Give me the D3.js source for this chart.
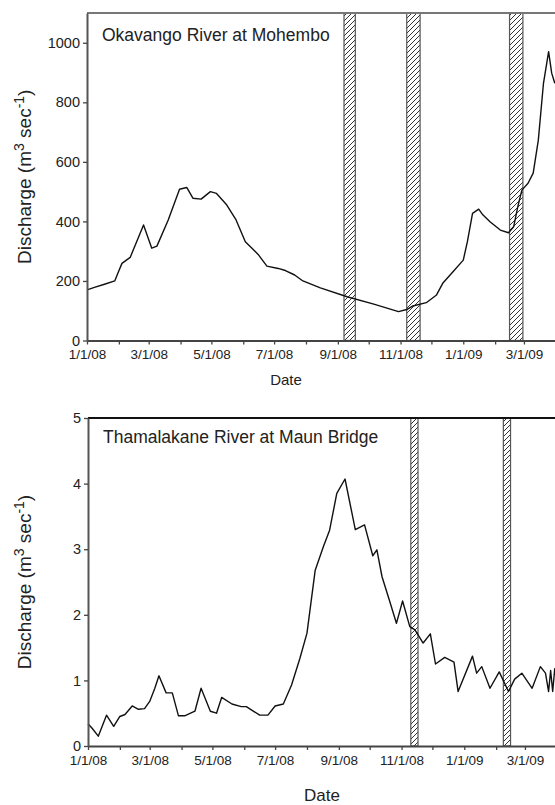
<!DOCTYPE html>
<html>
<head>
<meta charset="utf-8">
<script src="https://cdn.jsdelivr.net/npm/d3@7"></script>
<style>
  body { margin: 0; background: #fff; }
  svg { display: block; font-family: "Liberation Sans", Arial, sans-serif; }
</style>
</head>
<body>
<svg id="chart" width="555" height="805"></svg>
<script>
// Okavango River at Mohembo, daily discharge (m3/s)
const okavangoDates = [
  "2008-01-01","2008-01-09","2008-01-18","2008-01-28","2008-01-31","2008-02-04","2008-02-12",
  "2008-02-25","2008-03-04","2008-03-09","2008-03-20","2008-03-31","2008-04-07","2008-04-13",
  "2008-04-21","2008-04-30","2008-05-06","2008-05-16","2008-05-25","2008-06-03","2008-06-16",
  "2008-06-24","2008-07-05","2008-07-12","2008-07-21","2008-07-29","2008-08-15","2008-09-10",
  "2008-10-06","2008-10-30","2008-11-07","2008-11-13","2008-11-26","2008-12-06","2008-12-12",
  "2008-12-22","2009-01-01","2009-01-05","2009-01-10","2009-01-16","2009-01-20","2009-01-27",
  "2009-02-06","2009-02-14","2009-02-19","2009-02-23","2009-02-27","2009-03-05","2009-03-10",
  "2009-03-15","2009-03-20","2009-03-25","2009-03-28","2009-03-31"
];
const okavangoValues = [
  170, 179, 189, 200, 226, 259, 279,
  388, 310, 317, 405, 508, 514, 478,
  475, 500, 494, 455, 405, 332, 287,
  250, 242, 235, 220, 200, 177, 147,
  122, 97, 104, 116, 127, 153, 192,
  231, 270, 332, 427, 441, 422, 399,
  371, 362, 382, 449, 505, 528, 562,
  673, 864, 970, 898, 864
];

// Thamalakane River at Maun Bridge
const thamalakaneDates = [
  "2008-01-01","2008-01-05","2008-01-11","2008-01-19","2008-01-26","2008-02-01","2008-02-06",
  "2008-02-13","2008-02-19","2008-02-25","2008-03-01","2008-03-06","2008-03-10","2008-03-17",
  "2008-03-23","2008-03-29","2008-04-04","2008-04-14","2008-04-20","2008-04-29","2008-05-05",
  "2008-05-10","2008-05-20","2008-05-29","2008-06-03","2008-06-16","2008-06-24","2008-07-01",
  "2008-07-09","2008-07-17","2008-07-25","2008-08-01","2008-08-09","2008-08-17","2008-08-23",
  "2008-08-30","2008-09-07","2008-09-17","2008-09-26","2008-10-04","2008-10-08","2008-10-13",
  "2008-10-20","2008-10-27","2008-11-02","2008-11-09","2008-11-14","2008-11-22","2008-11-29",
  "2008-12-04","2008-12-13","2008-12-22","2008-12-26","2009-01-09","2009-01-13","2009-01-18",
  "2009-01-26","2009-02-04","2009-02-13","2009-02-19","2009-02-26","2009-03-08","2009-03-16",
  "2009-03-21","2009-03-24","2009-03-26","2009-03-28","2009-03-30","2009-04-02"
];
const thamalakaneValues = [
  0.34, 0.27, 0.15, 0.47, 0.30, 0.45, 0.48,
  0.61, 0.56, 0.57, 0.68, 0.88, 1.07, 0.81,
  0.81, 0.46, 0.46, 0.53, 0.88, 0.53, 0.50,
  0.74, 0.64, 0.60, 0.60, 0.47, 0.47, 0.61,
  0.64, 0.93, 1.33, 1.72, 2.68, 3.04, 3.29,
  3.85, 4.07, 3.30, 3.37, 2.90, 2.99, 2.58,
  2.23, 1.87, 2.21, 1.82, 1.77, 1.57, 1.71,
  1.25, 1.35, 1.28, 0.83, 1.37, 1.11, 1.21,
  0.88, 1.13, 0.83, 1.02, 1.11, 0.88, 1.21,
  1.11, 0.83, 1.15, 0.83, 1.18, 0.85
];

// hatched sampling periods [start, end]
const okavangoPeriods = [["2008-09-07","2008-09-18"], ["2008-11-07","2008-11-20"], ["2009-02-15","2009-02-28"]];
const thamalakanePeriods = [["2008-11-10","2008-11-17"], ["2009-02-08","2009-02-15"]];

const okavangoTicks = [0, 200, 400, 600, 800, 1000];
const thamalakaneTicks = [0, 1, 2, 3, 4, 5];

const parseDate = d3.utcParse("%Y-%m-%d");
const fmtDate = d3.utcFormat("%-m/%-d/%y");
const svg = d3.select("#chart");

const defs = svg.append("defs");
const pat = defs.append("pattern")
  .attr("id", "hatch")
  .attr("patternUnits", "userSpaceOnUse")
  .attr("width", 5)
  .attr("height", 5);
pat.append("rect").attr("width", 5).attr("height", 5).attr("fill", "#fff");
pat.append("path")
  .attr("d", "M-1,1 l2,-2 M0,5 l5,-5 M4,6 l2,-2")
  .attr("stroke", "#333")
  .attr("stroke-width", 1);

function drawPanel(cfg) {
  let x = d3.scaleUtc()
    .domain([parseDate("2008-01-01"), parseDate("2009-04-08")])
    .range([cfg.left, cfg.left + 476]);
  let y = d3.scaleLinear()
    .domain([0, cfg.yMax])
    .range([cfg.bottom, cfg.top]);

  let g = svg.append("g");

  g.selectAll("rect.period")
    .data(cfg.periods)
    .enter()
    .append("rect")
    .attr("class", "period")
    .attr("x", d => x(parseDate(d[0])))
    .attr("width", d => x(parseDate(d[1])) - x(parseDate(d[0])))
    .attr("y", y(cfg.yMax))
    .attr("height", y(0) - y(cfg.yMax))
    .attr("fill", "url(#hatch)")
    .attr("stroke", "#555")
    .attr("stroke-width", 1.2);

  let pts = cfg.dates.map((d, i) => [parseDate(d), cfg.values[i]]);
  let line = d3.line()
    .x(d => x(d[0]))
    .y(d => y(d[1]));
  g.append("path")
    .datum(pts)
    .attr("d", line)
    .attr("fill", "none")
    .attr("stroke", "#111")
    .attr("stroke-width", 1.4)
    .attr("stroke-linejoin", "round");

  // top frame
  g.append("line")
    .attr("x1", cfg.left).attr("x2", 555)
    .attr("y1", y(cfg.yMax)).attr("y2", y(cfg.yMax))
    .attr("stroke", cfg.frameColor)
    .attr("stroke-width", 2);

  let xAxis = d3.axisBottom(x)
    .ticks(d3.utcMonth.every(1))
    .tickFormat(d => d.getUTCMonth() % 2 === 0 ? fmtDate(d) : "")
    .tickSize(4)
    .tickSizeOuter(0)
    .tickPadding(5);
  let xg = g.append("g")
    .attr("transform", "translate(0," + cfg.bottom + ")")
    .call(xAxis);
  xg.select(".domain").attr("stroke", "#444").attr("stroke-width", 2);
  xg.selectAll(".tick line").attr("stroke", "#444").attr("stroke-width", 1.3);
  xg.selectAll(".tick text")
    .attr("font-family", '"Liberation Sans", Arial, sans-serif')
    .attr("font-size", 13.5)
    .attr("fill", "#222");

  let yAxis = d3.axisLeft(y)
    .tickValues(cfg.yTicks)
    .tickFormat(d3.format("d"))
    .tickSize(4)
    .tickSizeOuter(0)
    .tickPadding(3);
  let yg = g.append("g")
    .attr("transform", "translate(" + cfg.left + ",0)")
    .call(yAxis);
  yg.select(".domain").attr("stroke", "#555").attr("stroke-width", 2);
  yg.selectAll(".tick line").attr("stroke", "#444").attr("stroke-width", 1.3);
  yg.selectAll(".tick text")
    .attr("font-family", '"Liberation Sans", Arial, sans-serif')
    .attr("font-size", 14.5)
    .attr("fill", "#222");

  g.append("text")
    .attr("x", cfg.left + 15)
    .attr("y", cfg.titleY)
    .attr("font-size", 17.5)
    .attr("fill", "#222")
    .text(cfg.title);

  g.append("text")
    .attr("x", cfg.dateX)
    .attr("y", cfg.dateY)
    .attr("text-anchor", "middle")
    .attr("font-size", cfg.dateSize)
    .attr("fill", "#222")
    .text("Date");

  let yl = g.append("text")
    .attr("transform", "translate(31," + (cfg.top + cfg.bottom) / 2 + ") rotate(-90)")
    .attr("text-anchor", "middle")
    .attr("font-size", 19)
    .attr("fill", "#222");
  yl.append("tspan").text("Discharge (m");
  yl.append("tspan").attr("dy", -7).attr("font-size", 14).text("3");
  yl.append("tspan").attr("dy", 7).text(" sec");
  yl.append("tspan").attr("dy", -7).attr("font-size", 14).text("-1");
  yl.append("tspan").attr("dy", 7).text(")");
}

drawPanel({
  left: 87, top: 13, bottom: 340.5, yMax: 1100,
  dates: okavangoDates, values: okavangoValues,
  periods: okavangoPeriods, yTicks: okavangoTicks,
  title: "Okavango River at Mohembo", titleY: 40.5,
  frameColor: "#777", dateX: 286, dateY: 385, dateSize: 15
});

drawPanel({
  left: 88, top: 418, bottom: 746, yMax: 5,
  dates: thamalakaneDates, values: thamalakaneValues,
  periods: thamalakanePeriods, yTicks: thamalakaneTicks,
  title: "Thamalakane River at Maun Bridge", titleY: 443,
  frameColor: "#111", dateX: 322, dateY: 801, dateSize: 17
});
</script>
</body>
</html>
